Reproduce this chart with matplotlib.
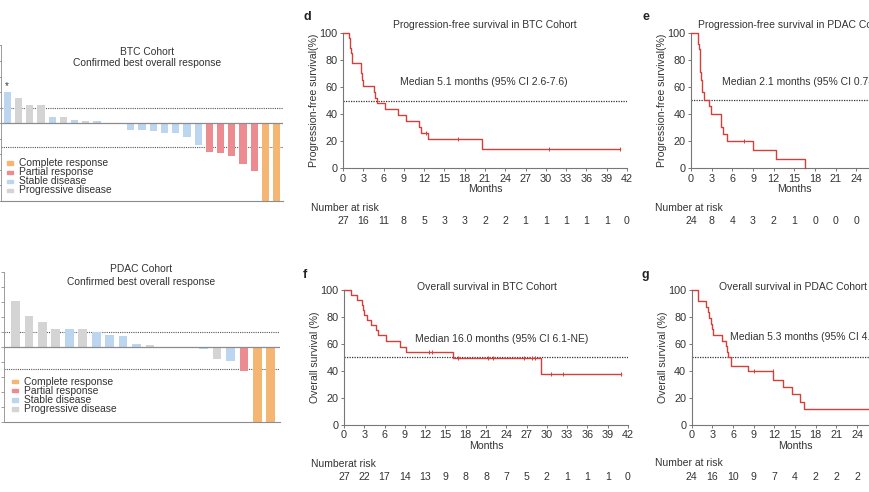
import matplotlib.pyplot as plt
from matplotlib import patches, transforms

plt.rcParams['font.family'] = ['Liberation Sans', 'DejaVu Sans']
plt.rcParams['font.size'] = 7.5

W, H = 870, 492

# best overall response (% change from baseline)
btc_change = [40, 33, 24, 23, 8.5, 8.5, 4, 3, 3, 0, 0, -8.5, -8.5, -9.5, -13, -13,
              -18, -28, -37, -38, -42, -53, -61, -100, -100]
btc_resp = ['SD', 'PD', 'PD', 'PD', 'SD', 'PD', 'SD', 'PD', 'SD', 'SD', 'SD', 'SD', 'SD',
            'SD', 'SD', 'SD', 'SD', 'SD', 'PR', 'PR', 'PR', 'PR', 'PR', 'CR', 'CR']
pdac_change = [61, 41, 33, 24, 24, 24, 20, 16, 14, 4, 2, 0, 0, -1, -3, -16, -19, -32, -100, -100]
pdac_resp = ['PD', 'PD', 'PD', 'PD', 'SD', 'PD', 'SD', 'SD', 'SD', 'SD', 'PD', 'SD', 'SD',
             'PD', 'SD', 'PD', 'SD', 'PR', 'CR', 'CR']

resp_names = ['Complete response', 'Partial response', 'Stable disease', 'Progressive disease']
resp_keys = ['CR', 'PR', 'SD', 'PD']
resp_colors = {'CR': '#F6B673', 'PR': '#EC8C90', 'SD': '#BCD6F0', 'PD': '#D4D4D4'}

# Kaplan-Meier curves: step times, survival (%), censor times
pfs_btc_t = [0, 0.9, 1.0, 1.1, 1.2, 1.3, 1.4, 2.6, 2.8, 3.0, 4.6, 4.8, 5.0, 6.2, 8.1, 9.3,
             11.3, 11.5, 12.6, 20.6, 40.9]
pfs_btc_s = [100, 96.3, 92.6, 88.9, 85.2, 81.5, 77.8, 70.4, 65.0, 61.0, 56.5, 52.2, 47.8,
             43.5, 39.1, 34.8, 30.4, 26.1, 21.7, 14.1, 14.1]
pfs_btc_c = [12.3, 17.0, 30.4, 40.9]
pfs_btc_risk = [27, 16, 11, 8, 5, 3, 3, 2, 2, 1, 1, 1, 1, 1, 0]

pfs_pdac_t = [0, 0.95, 1.05, 1.15, 1.25, 1.35, 1.5, 1.65, 1.9, 2.65, 2.9, 4.35, 4.6, 5.2,
              9.05, 12.3, 16.5]
pfs_pdac_s = [100, 95.8, 91.7, 87.5, 79.2, 70.8, 64.6, 56.3, 50.0, 45.8, 40.0, 30.0, 25.0,
              20.0, 13.3, 6.7, 0]
pfs_pdac_c = [7.7]
pfs_pdac_risk = [24, 8, 4, 3, 2, 1, 0, 0, 0]

os_btc_t = [0, 1.1, 1.9, 2.7, 2.8, 2.9, 3.4, 4.0, 4.8, 5.0, 6.2, 8.3, 9.2, 16.1, 29.2, 40.9]
os_btc_s = [100, 96.3, 92.6, 88.9, 85.2, 81.5, 77.8, 74.1, 70.4, 66.7, 62.0, 58.0, 54.2,
            49.8, 37.4, 37.4]
os_btc_c = [12.5, 13.0, 16.9, 21.3, 22.1, 26.6, 27.8, 28.3, 30.6, 32.4, 40.9]
os_btc_risk = [27, 22, 17, 14, 13, 9, 8, 8, 7, 5, 2, 1, 1, 1, 0]

os_pdac_t = [0, 0.97, 2.1, 2.3, 2.5, 2.8, 3.0, 3.1, 4.35, 5.0, 5.1, 5.2, 5.65, 8.1, 11.85,
             13.2, 14.5, 15.7, 16.35, 30]
os_pdac_s = [100, 91.7, 87.5, 83.3, 79.2, 75.0, 70.8, 66.7, 62.5, 58.3, 54.2, 50.0, 43.8,
             39.6, 33.3, 28.2, 22.8, 17.1, 11.4, 11.4]
os_pdac_c = [9.1, 11.8]
os_pdac_risk = [24, 16, 10, 9, 7, 4, 2, 2, 2]

fig = plt.figure(figsize=(W / 100, H / 100), dpi=100)


def fx(x):
    return x / W


def fy(y):
    return 1 - y / H


def px_axes(l, t, r, b):
    return fig.add_axes([l / W, 1 - b / H, (r - l) / W, (b - t) / H])


def waterfall(box, change, resp, xlim, title, title_x, title_y, legend_pos):
    ax = px_axes(*box)
    idx = list(range(len(change)))
    ax.bar(idx, change, width=0.65, color=[resp_colors[r] for r in resp], zorder=2)
    ax.set_xlim(*xlim)
    ax.set_ylim(-100, 100)
    ax.axhline(0, color='#8C8C8C', lw=0.9, zorder=3)
    ax.axhline(20, color='#555555', lw=0.8, ls=(0, (1, 1)), zorder=1)
    ax.axhline(-30, color='#555555', lw=0.8, ls=(0, (1, 1)), zorder=1)
    for side in ['top', 'right']:
        ax.spines[side].set_visible(False)
    ax.spines['bottom'].set_color('#8C8C8C')
    ax.spines['left'].set_color('#8C8C8C')
    ax.spines['left'].set_linewidth(0.6)
    ax.set_xticks([])
    ax.set_yticks(range(-100, 101, 20))
    ax.tick_params(axis='y', length=2.5, width=0.6, color='#8C8C8C', labelleft=False)
    ax.patch.set_alpha(0)
    fig.text(fx(title_x), fy(title_y[0]), title, ha='center', va='center', fontsize=7.4,
             color='#333333')
    fig.text(fx(title_x), fy(title_y[1]), 'Confirmed best overall response', ha='center',
             va='center', fontsize=7.4, color='#333333')
    mx, tx0, y0 = legend_pos
    for i, (name, key) in enumerate(zip(resp_names, resp_keys)):
        yy = y0 + i * 9.1
        fig.add_artist(patches.Rectangle((fx(mx), fy(yy + 1.6)), 6 / W, 3.2 / H,
                                         color=resp_colors[key], transform=fig.transFigure))
        fig.text(fx(tx0), fy(yy), name, ha='left', va='center', fontsize=7.4, color='#333333')
    return ax


ax_a = waterfall((0.5, 45.5, 283.5, 201), btc_change, btc_resp, (-0.6, 24.6),
                 'BTC Cohort', 147, (52, 63), (7, 19, 163))
ax_a.text(0, btc_change[0] + 2, '*', ha='center', va='bottom', fontsize=7, color='#333333')
waterfall((4.5, 271.7, 280, 421.7), pdac_change, pdac_resp, (-0.82, 19.68),
          'PDAC Cohort', 141, (269, 282), (12, 24, 381.7))


def km_panel(box, xmax, t, s, cens, risk, ylabel, title, title_x, title_y, title_ha,
             median, med_x, med_y, letter, letter_xy, risk_label, risk_label_xy, risk_y):
    ax = px_axes(*box)
    ax.step(t, s, where='post', color='#D2403A', lw=1.0, clip_on=False, zorder=3)
    cs = []
    for c in cens:
        v = s[0]
        for ti, si in zip(t, s):
            if ti <= c:
                v = si
        cs.append(v)
    ax.plot(cens, cs, ls='none', marker='|', ms=3.5, mew=0.7, color='#D2403A',
            clip_on=False, zorder=3)
    ax.axhline(50, color='#333333', lw=0.9, ls=(0, (1, 1)), zorder=1)
    ticks = list(range(0, xmax + 1, 3))
    ax.set_xlim(0, xmax)
    ax.set_ylim(0, 100)
    ax.set_xticks(ticks)
    ax.set_yticks(range(0, 101, 20))
    for side in ['top', 'right']:
        ax.spines[side].set_visible(False)
    for side in ['left', 'bottom']:
        ax.spines[side].set_color('#777777')
        ax.spines[side].set_linewidth(0.8)
    ax.tick_params(length=2.5, width=0.7, color='#777777', labelsize=7.8,
                   labelcolor='#333333', pad=1.5)
    ax.set_xlabel('Months', fontsize=7.6, color='#333333', labelpad=0.5)
    ax.set_ylabel(ylabel, fontsize=7.6, color='#333333', labelpad=0)
    ax.patch.set_alpha(0)
    fig.text(fx(title_x), fy(title_y), title, ha=title_ha, va='center', fontsize=7.5,
             color='#333333')
    fig.text(fx(med_x), fy(med_y), median, ha='left', va='center', fontsize=7.5,
             color='#333333')
    fig.text(fx(letter_xy[0]), fy(letter_xy[1]), letter, ha='center', va='center',
             fontsize=9, fontweight='bold', color='#222222')
    fig.text(fx(risk_label_xy[0]), fy(risk_label_xy[1]), risk_label, ha='left',
             va='center', fontsize=7.5, color='#333333')
    tr = transforms.blended_transform_factory(ax.transData, fig.transFigure)
    for m, n in zip(ticks, risk):
        ax.text(m, fy(risk_y), str(n), transform=tr, ha='center', va='center',
                fontsize=7.6, color='#333333', clip_on=False)
    return ax


km_panel((343, 33, 627, 168), 42, pfs_btc_t, pfs_btc_s, pfs_btc_c, pfs_btc_risk,
         'Progression-free survival(%)', 'Progression-free survival in BTC Cohort', 485, 25,
         'center', 'Median 5.1 months (95% CI 2.6-7.6)', 400, 82, 'd', (307, 17),
         'Number at risk', (311, 208), 221)
km_panel((691, 32.5, 897.7, 168), 30, pfs_pdac_t, pfs_pdac_s, pfs_pdac_c, pfs_pdac_risk,
         'Progression-free survival(%)', 'Progression-free survival in PDAC Cohort', 698, 25,
         'left', 'Median 2.1 months (95% CI 0.7-2.9)', 722, 82, 'e', (646, 17),
         'Number at risk', (655, 208), 221)
km_panel((344, 290, 628, 424.7), 42, os_btc_t, os_btc_s, os_btc_c, os_btc_risk,
         'Overall survival (%)', 'Overall survival in BTC Cohort', 487, 287,
         'center', 'Median 16.0 months (95% CI 6.1-NE)', 415, 339, 'f', (305, 275),
         'Numberat risk', (311, 464), 476.7)
km_panel((691.7, 290, 898.4, 424.7), 30, os_pdac_t, os_pdac_s, os_pdac_c, os_pdac_risk,
         'Overall survival (%)', 'Overall survival in PDAC Cohort', 719, 287,
         'left', 'Median 5.3 months (95% CI 4.0-7.4)', 730, 337, 'g', (645, 275),
         'Number at risk', (655, 463), 476.7)

fig.savefig('out.png', dpi=100)
